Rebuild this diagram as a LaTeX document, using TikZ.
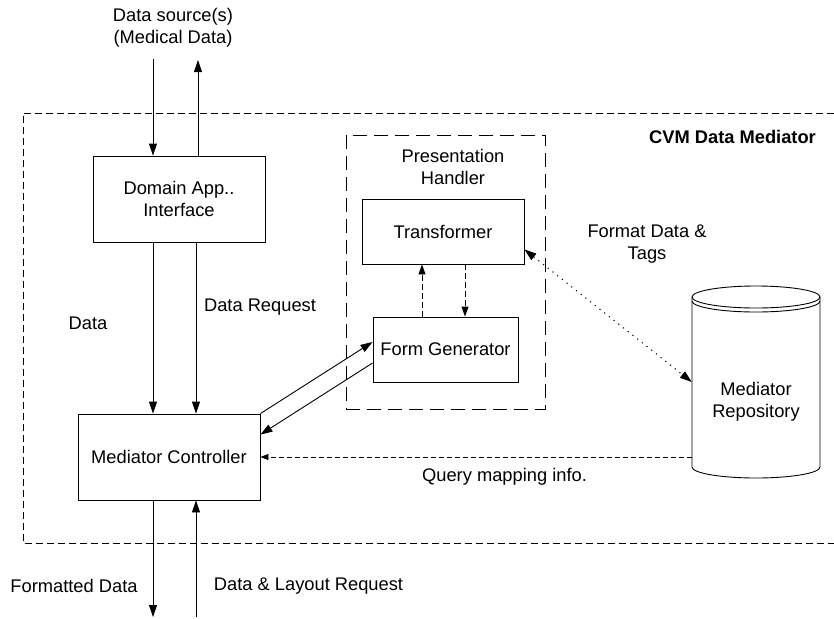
\documentclass[tikz,border=0pt]{standalone}
\usepackage{fontspec}
\setmainfont{Liberation Sans}
\usetikzlibrary{arrows.meta,calc}
\begin{document}
\begin{tikzpicture}[x=1pt,y=-1pt,
  every node/.style={font=\fontsize{18.3}{21.5}\selectfont, inner sep=0pt},
  box/.style={draw, line width=0.9pt, align=center},
  lbl/.style={align=center},
  conn/.style={line width=0.9pt, -{Triangle[length=12pt,width=8pt]}},
  dconn/.style={line width=0.9pt, dash pattern=on 6pt off 3pt, -{Triangle[length=10pt,width=7pt]}},
  outerdash/.style={line width=0.8pt, dash pattern=on 7pt off 4pt},
  phdash/.style={line width=0.8pt, dash pattern=on 14pt off 7pt},
  qdash/.style={line width=0.8pt, dash pattern=on 5pt off 3pt, -{Triangle[length=8pt,width=6pt]}},
  dotconn/.style={line width=1pt, dash pattern=on 1.2pt off 4.8pt, {Triangle[length=12pt,width=8pt]}-{Triangle[length=12pt,width=8pt]}}
]
\useasboundingbox (0,0) rectangle (834,618);

% outer container
\draw[outerdash] (834,113) -- (23,113) -- (23,543) -- (834,543);
\node[font=\fontsize{18.3}{21.5}\selectfont\bfseries] (cvm) at (732.5,137) {CVM Data Mediator};

% presentation handler
\node[draw, phdash, minimum width=199pt, minimum height=274pt] (ph) at (445.5,272) {};
\node[lbl] (phl) at (453,167) {Presentation\\Handler};

% boxes
\node[box, minimum width=172pt, minimum height=86pt] (dom) at (179,199) {Domain App..\\Interface};
\node[box, minimum width=182pt, minimum height=86pt] (mc) at (169,457) {Mediator Controller};
\node[box, minimum width=162pt, minimum height=65pt] (trans) at (443,231.5) {Transformer};
\node[box, minimum width=145pt, minimum height=65pt] (fg) at (445.5,349.5) {Form Generator};

% repository cylinder
\node[minimum width=128pt, minimum height=170pt] (repo) at (756,382) {};
\draw[line width=0.9pt] (756,297) ellipse [x radius=64pt, y radius=11pt];
\draw[line width=0.9pt] (692,301) arc[start angle=180, end angle=360, x radius=64pt, y radius=11pt];
\draw[line width=0.9pt] (692,297) -- (692,467) arc[start angle=180, end angle=360, x radius=64pt, y radius=11pt] -- (820,297);
\node[lbl] (repol) at (756,402) {Mediator\\Repository};

% coordinates
\coordinate (xa) at (153,0);
\coordinate (xb) at (198,0);
\coordinate (xc) at (196,0);
\coordinate (in1) at (153,59);
\coordinate (out1) at (198,60);
\coordinate (bot) at (0,617);

% top
\node[lbl] (src) at (173,28) {Data source(s)\\(Medical Data)};
\draw[conn] (in1) -- (dom.north -| xa);
\draw[conn] (dom.north -| xb) -- (out1);

% domain -> mc
\draw[conn] (dom.south -| xa) -- (mc.north -| xa);
\draw[conn] (dom.south -| xc) -- (mc.north -| xc);
\node (datal) at (88,323) {Data};
\node (dreq) at (260,307) {Data Request};

% bottom
\draw[conn] (mc.south -| xa) -- (xa |- bot);
\draw[conn] (xc |- bot) -- (mc.south -| xc);
\node (fdata) at (74,586) {Formatted Data};
\node (dlreq) at (308.5,586) {Data \& Layout Request};

% mc <-> fg
\draw[conn] (mc.north east) -- ([yshift=7.5pt]fg.west);
\draw[conn] ([yshift=-13.5pt]fg.west) -- ([yshift=-21pt]mc.north east);

% trans <-> fg
\draw[dconn] ([xshift=-23.5pt]fg.north) -- ([xshift=-23.5pt]fg.north |- trans.south);
\draw[dconn] ([xshift=19.5pt]fg.north |- trans.south) -- ([xshift=19.5pt]fg.north);

% trans <-> repo
\draw[dotconn] ([yshift=15pt]trans.south east) -- (repo.west);
\node[lbl] (fmt) at (647,244) {Format Data \&\\Tags};

% repo -> mc
\draw[qdash] (repo.west |- mc.east) -- (mc.east);
\node (qmap) at (504.5,477) {Query mapping info.};
\end{tikzpicture}
\end{document}
